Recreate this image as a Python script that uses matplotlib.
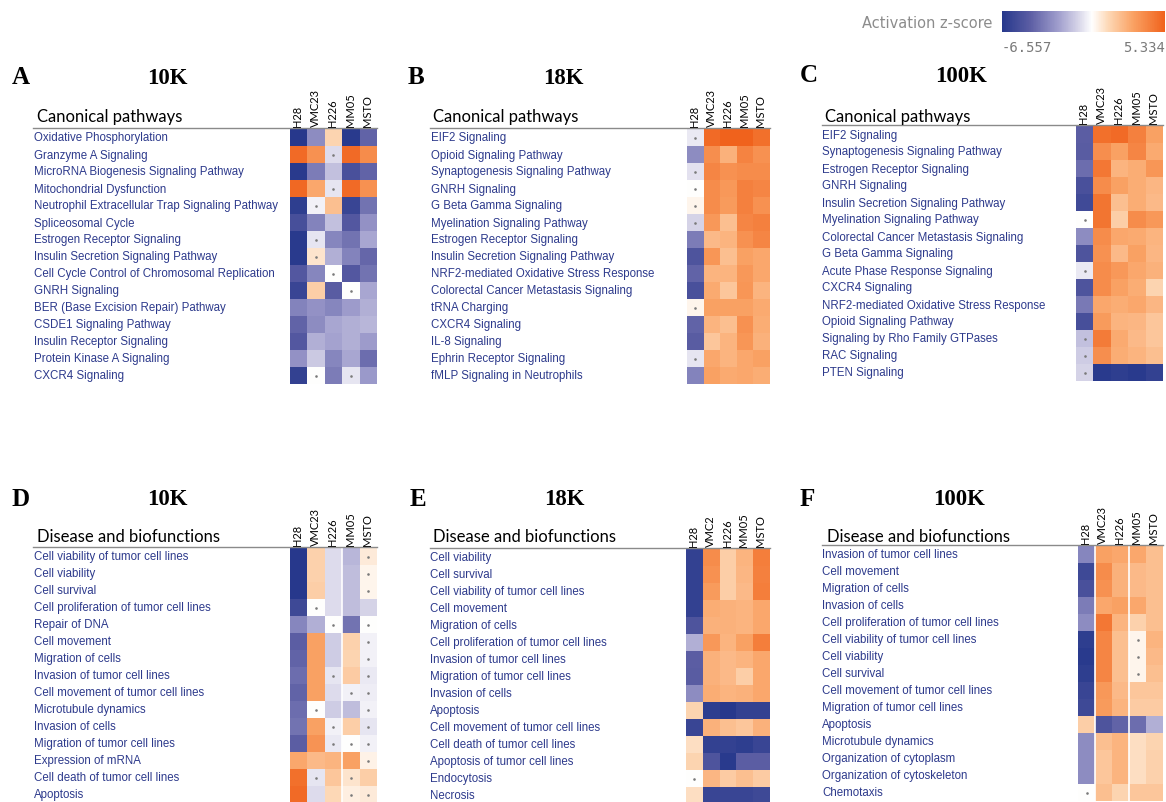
import matplotlib.pyplot as plt
from matplotlib.colors import LinearSegmentedColormap, Normalize
from matplotlib.cm import ScalarMappable
from matplotlib.lines import Line2D
import numpy as np

# ---- data: activation z-scores (rows = pathways/functions, cols = cell lines) ----
ZMIN, ZMAX = -6.557, 5.334

cell_lines = ["H28", "VMC23", "H226", "MM05", "MSTO"]
cell_lines_e = ["H28", "VMC2", "H226", "MM05", "MSTO"]

a_rows = ["Oxidative Phosphorylation", "Granzyme A Signaling",
          "MicroRNA Biogenesis Signaling Pathway", "Mitochondrial Dysfunction",
          "Neutrophil Extracellular Trap Signaling Pathway", "Spliceosomal Cycle",
          "Estrogen Receptor Signaling", "Insulin Secretion Signaling Pathway",
          "Cell Cycle Control of Chromosomal Replication", "GNRH Signaling",
          "BER (Base Excision Repair) Pathway", "CSDE1 Signaling Pathway",
          "Insulin Receptor Signaling", "Protein Kinase A Signaling", "CXCR4 Signaling"]
a_z = [[-6.5, -3.0, 1.3, -6.4, -4.3],
       [5.0, 3.6, -0.8, 5.0, 3.8],
       [-6.4, -3.5, -1.5, -5.2, -4.3],
       [5.1, 2.8, -0.6, 5.0, 3.6],
       [-6.2, -0.3, 2.0, -5.8, -3.8],
       [-5.3, -3.3, -1.5, -4.8, -2.8],
       [-6.4, -0.6, -3.2, -3.8, -2.2],
       [-6.4, 0.8, -2.0, -3.3, -4.2],
       [-4.8, -3.2, 0.0, -4.8, -3.8],
       [-5.8, 1.5, -4.6, 0.0, -2.2],
       [-3.3, -2.8, -3.2, -2.5, -2.0],
       [-4.3, -3.0, -2.2, -2.0, -1.8],
       [-4.8, -2.0, -2.3, -2.0, -2.5],
       [-2.8, -1.3, -3.2, -2.2, -4.0],
       [-6.0, 0.0, -3.5, -0.6, -2.6]]
a_ns = [(1, 2), (3, 2), (4, 1), (6, 1), (7, 1), (8, 2), (9, 3), (14, 1), (14, 3)]

b_rows = ["EIF2 Signaling", "Opioid Signaling Pathway",
          "Synaptogenesis Signaling Pathway", "GNRH Signaling",
          "G Beta Gamma Signaling", "Myelination Signaling Pathway",
          "Estrogen Receptor Signaling", "Insulin Secretion Signaling Pathway",
          "NRF2-mediated Oxidative Stress Response",
          "Colorectal Cancer Metastasis Signaling", "tRNA Charging",
          "CXCR4 Signaling", "IL-8 Signaling", "Ephrin Receptor Signaling",
          "fMLP Signaling in Neutrophils"]
b_z = [[-0.5, 5.0, 5.3, 5.3, 4.8],
       [-3.0, 3.7, 2.5, 4.1, 3.6],
       [-0.7, 4.0, 3.6, 3.8, 3.8],
       [0.0, 3.8, 3.3, 4.2, 4.0],
       [0.3, 3.8, 3.2, 4.2, 3.6],
       [-1.0, 3.3, 2.0, 4.0, 4.2],
       [-3.5, 2.2, 2.4, 3.6, 4.0],
       [-5.0, 3.4, 2.0, 3.0, 2.8],
       [-4.3, 2.4, 2.4, 3.3, 2.8],
       [-5.2, 2.7, 1.8, 3.4, 2.4],
       [0.3, 3.0, 3.0, 3.0, 2.7],
       [-4.3, 2.4, 2.0, 3.6, 2.6],
       [-4.6, 1.8, 2.4, 3.4, 2.5],
       [-0.6, 2.8, 2.4, 2.8, 3.0],
       [-3.3, 3.0, 2.7, 2.8, 2.6]]
b_ns = [(0, 0), (2, 0), (3, 0), (4, 0), (5, 0), (10, 0), (13, 0)]

c_rows = ["EIF2 Signaling", "Synaptogenesis Signaling Pathway",
          "Estrogen Receptor Signaling", "GNRH Signaling",
          "Insulin Secretion Signaling Pathway", "Myelination Signaling Pathway",
          "Colorectal Cancer Metastasis Signaling", "G Beta Gamma Signaling",
          "Acute Phase Response Signaling", "CXCR4 Signaling",
          "NRF2-mediated Oxidative Stress Response", "Opioid Signaling Pathway",
          "Signaling by Rho Family GTPases", "RAC Signaling", "PTEN Signaling"]
c_z = [[-4.5, 4.8, 5.0, 4.2, 3.0],
       [-4.6, 3.7, 3.0, 4.0, 2.7],
       [-4.0, 4.5, 2.4, 2.6, 3.4],
       [-5.2, 3.8, 3.0, 2.6, 2.3],
       [-5.5, 4.6, 2.0, 2.6, 2.2],
       [0.0, 4.6, 1.5, 3.8, 3.3],
       [-3.0, 3.8, 2.8, 2.7, 2.4],
       [-5.0, 3.6, 2.2, 3.0, 2.3],
       [-0.5, 3.8, 3.3, 2.8, 2.5],
       [-5.0, 3.8, 3.0, 2.6, 1.3],
       [-3.6, 2.8, 2.6, 2.8, 2.3],
       [-5.3, 3.2, 2.4, 2.3, 1.8],
       [-1.5, 4.4, 2.7, 2.2, 1.8],
       [-1.2, 3.7, 2.6, 2.4, 2.0],
       [-1.0, -6.4, -6.2, -6.4, -6.0]]
c_ns = [(5, 0), (8, 0), (12, 0), (13, 0), (14, 0)]

d_rows = ["Cell viability of tumor cell lines", "Cell viability", "Cell survival",
          "Cell proliferation of tumor cell lines", "Repair of DNA",
          "Cell movement", "Migration of cells", "Invasion of tumor cell lines",
          "Cell movement of tumor cell lines", "Microtubule dynamics",
          "Invasion of cells", "Migration of tumor cell lines",
          "Expression of mRNA", "Cell death of tumor cell lines", "Apoptosis"]
d_z = [[-6.5, 1.4, -0.8, -1.8, 0.6],
       [-6.5, 1.4, -0.8, -1.6, 0.3],
       [-6.5, 1.5, -0.8, -1.6, 0.3],
       [-5.6, 0.0, -0.8, -1.6, -1.0],
       [-3.2, -2.0, 0.0, -3.8, 0.0],
       [-4.5, 3.0, -1.2, 1.4, -0.3],
       [-4.3, 3.0, -1.2, 1.3, -0.3],
       [-4.0, 3.0, -0.6, 1.6, -0.5],
       [-4.3, 3.0, -0.8, -0.3, -0.4],
       [-4.0, 0.0, -1.2, -1.6, -0.3],
       [-3.8, 3.0, -0.3, 1.5, -0.6],
       [-4.5, 3.5, -0.5, 0.0, -0.3],
       [2.8, 2.2, 2.4, 3.0, 0.4],
       [4.8, -0.6, 1.8, 0.8, 1.5],
       [5.0, -0.8, 1.2, 0.5, 0.6]]
d_ns = [(0, 4), (1, 4), (2, 4), (3, 1), (4, 2), (4, 4), (5, 4), (6, 4),
        (7, 2), (7, 4), (8, 3), (8, 4), (9, 1), (9, 4), (10, 2), (10, 4),
        (11, 2), (11, 3), (11, 4), (12, 4), (13, 1), (13, 3), (14, 3), (14, 4)]

e_rows = ["Cell viability", "Cell survival", "Cell viability of tumor cell lines",
          "Cell movement", "Migration of cells",
          "Cell proliferation of tumor cell lines", "Invasion of tumor cell lines",
          "Migration of tumor cell lines", "Invasion of cells", "Apoptosis",
          "Cell movement of tumor cell lines", "Cell death of tumor cell lines",
          "Apoptosis of tumor cell lines", "Endocytosis", "Necrosis"]
e_z = [[-6.0, 3.8, 1.5, 2.4, 4.3],
       [-6.0, 3.6, 1.5, 2.3, 4.2],
       [-6.0, 3.2, 1.5, 2.2, 4.3],
       [-6.0, 2.6, 2.5, 2.4, 2.8],
       [-5.0, 2.5, 2.5, 2.4, 2.8],
       [-2.0, 3.3, 2.4, 3.0, 4.3],
       [-4.5, 2.5, 2.2, 2.4, 2.8],
       [-4.6, 2.5, 2.2, 1.5, 2.8],
       [-3.0, 2.6, 2.4, 2.5, 2.8],
       [1.3, -6.2, -6.5, -6.0, -6.0],
       [-5.8, 2.5, 2.0, 1.8, 2.5],
       [1.0, -6.0, -6.0, -6.2, -5.8],
       [1.3, -5.0, -6.4, -4.5, -4.5],
       [0.0, 2.3, 1.6, 2.0, 1.6],
       [1.0, -5.8, -5.8, -5.8, -5.6]]
e_ns = [(13, 0)]

f_rows = ["Invasion of tumor cell lines", "Cell movement", "Migration of cells",
          "Invasion of cells", "Cell proliferation of tumor cell lines",
          "Cell viability of tumor cell lines", "Cell viability", "Cell survival",
          "Cell movement of tumor cell lines", "Migration of tumor cell lines",
          "Apoptosis", "Microtubule dynamics", "Organization of cytoplasm",
          "Organization of cytoskeleton", "Chemotaxis"]
f_z = [[-3.2, 3.0, 2.8, 2.8, 2.0],
       [-5.6, 3.8, 2.5, 2.2, 2.0],
       [-5.2, 3.6, 2.5, 2.2, 2.0],
       [-3.5, 2.8, 3.0, 2.8, 2.0],
       [-3.0, 4.5, 2.4, 1.4, 2.0],
       [-6.2, 4.0, 2.0, 0.3, 2.4],
       [-6.4, 4.0, 2.0, 0.3, 2.2],
       [-6.2, 4.0, 2.0, 0.3, 2.0],
       [-5.8, 3.3, 2.2, 1.8, 1.8],
       [-5.6, 3.2, 2.4, 1.6, 1.6],
       [1.5, -5.0, -4.3, -4.0, -2.0],
       [-3.0, 2.0, 2.4, 1.0, 1.3],
       [-3.0, 1.8, 2.4, 1.0, 1.4],
       [-3.0, 1.8, 2.4, 1.0, 1.4],
       [0.0, 2.0, 1.3, 1.8, 1.8]]
f_ns = [(5, 3), (6, 3), (7, 3), (14, 0)]

# ---- colour scale: navy -> white (at z = 0) -> orange ----
def _f(z):
    return (z - ZMIN) / (ZMAX - ZMIN)

cmap = LinearSegmentedColormap.from_list("zscore", [
    (0.0, (38/255, 56/255, 140/255)),
    (_f(-4.5), (92/255, 94/255, 164/255)),
    (_f(-2.5), (158/255, 156/255, 204/255)),
    (_f(-1.0), (214/255, 212/255, 232/255)),
    (_f(0.0), (1.0, 1.0, 1.0)),
    (_f(1.2), (253/255, 216/255, 182/255)),
    (_f(3.0), (250/255, 162/255, 100/255)),
    (1.0, (240/255, 98/255, 28/255)),
])
norm = Normalize(vmin=ZMIN, vmax=ZMAX)

W, H = 1166, 803
fig = plt.figure(figsize=(W / 100, H / 100), dpi=100)


def fx(x):
    return x / W


def fy(y):
    return 1 - y / H


LABEL_BLUE = "#2d3a8c"


def panel(letter, title, header, rows, z, ns, cols, lay, seps=()):
    lx, ly, tx, ty, hx, hy, line_y, line_x0, x0, y0, x1, rowx = lay
    fig.text(fx(lx), fy(ly), letter, family="Liberation Serif", weight="bold",
             fontsize=18, va="center", ha="left")
    fig.text(fx(tx), fy(ty), title, family="Liberation Serif", weight="bold",
             fontsize=16.5, va="center", ha="center")
    fig.text(fx(hx), fy(hy), header, family="Lato", fontsize=12,
             va="baseline", ha="left")
    fig.add_artist(Line2D([fx(line_x0), fx(x1)], [fy(line_y), fy(line_y)],
                          color="#8a8a8a", lw=1.0))

    nrow = len(rows)
    y1 = y0 + 17 * nrow
    ax = fig.add_axes([fx(x0), fy(y1), fx(x1) - fx(x0), fy(y0) - fy(y1)])
    ax.imshow(np.array(z), cmap=cmap, norm=norm, aspect="auto",
              interpolation="nearest")
    for c in seps:
        ax.axvline(c, color="white", lw=1.2)
    if ns:
        r, c = zip(*ns)
        ax.scatter(c, r, s=3.5, color="#7a7a7a", linewidths=0, zorder=3)
    ax.set_xlim(-0.5, len(cols) - 0.5)
    ax.set_ylim(nrow - 0.5, -0.5)
    ax.axis("off")

    # column headers, rotated
    for i, name in enumerate(cols):
        ax.text(i - 0.05, -0.7, name, rotation=90, ha="center", va="bottom",
                family="Lato", fontsize=8, clip_on=False)

    # row labels, left aligned in figure space
    x_off = (rowx - x0) / (x1 - x0)
    for i, name in enumerate(rows):
        ax.text(x_off, i, name, transform=ax.get_yaxis_transform(),
                ha="left", va="center", family="Liberation Sans",
                fontsize=8.3, color=LABEL_BLUE, clip_on=False)


cp = "Canonical pathways"
db = "Disease and biofunctions"

panel("A", "10K", cp, a_rows, a_z, a_ns, cell_lines,
      (12, 78, 167, 78, 37, 122, 129, 33, 290, 130, 377, 34))
panel("B", "18K", cp, b_rows, b_z, b_ns, cell_lines,
      (408, 78, 563, 78, 433, 122, 129, 430, 687, 130, 770, 431))
panel("C", "100K", cp, c_rows, c_z, c_ns, cell_lines,
      (800, 76, 961, 76, 825, 122, 126, 822, 1076, 127, 1163, 822))
panel("D", "10K", db, d_rows, d_z, d_ns, cell_lines,
      (12, 500, 167, 500, 37, 542, 548, 33, 290, 549, 377, 34), seps=(2.5,))
panel("E", "18K", db, e_rows, e_z, e_ns, cell_lines_e,
      (410, 500, 564, 500, 433, 542, 549, 430, 686, 550, 770, 430))
panel("F", "100K", db, f_rows, f_z, f_ns, cell_lines,
      (800, 500, 959, 500, 827, 542, 546, 822, 1078, 547, 1163, 822),
      seps=(0.5, 2.5))

# ---- colour bar ----
cax = fig.add_axes([fx(1002), fy(33), fx(1165) - fx(1002), fy(12) - fy(33)])
cb = fig.colorbar(ScalarMappable(norm=norm, cmap=cmap), cax=cax,
                  orientation="horizontal")
cb.outline.set_visible(False)
cax.set_xticks([])
fig.text(fx(992), fy(23), "Activation z-score", ha="right", va="center",
         fontsize=10.5, color="#8c8c8c")
fig.text(fx(1002), fy(48), f"{ZMIN:.3f}", ha="left", va="center",
         family="DejaVu Sans Mono", fontsize=10, color="#7a7a7a")
fig.text(fx(1165), fy(48), f"{ZMAX:.3f}", ha="right", va="center",
         family="DejaVu Sans Mono", fontsize=10, color="#7a7a7a")

fig.savefig("out.png", dpi=100)
